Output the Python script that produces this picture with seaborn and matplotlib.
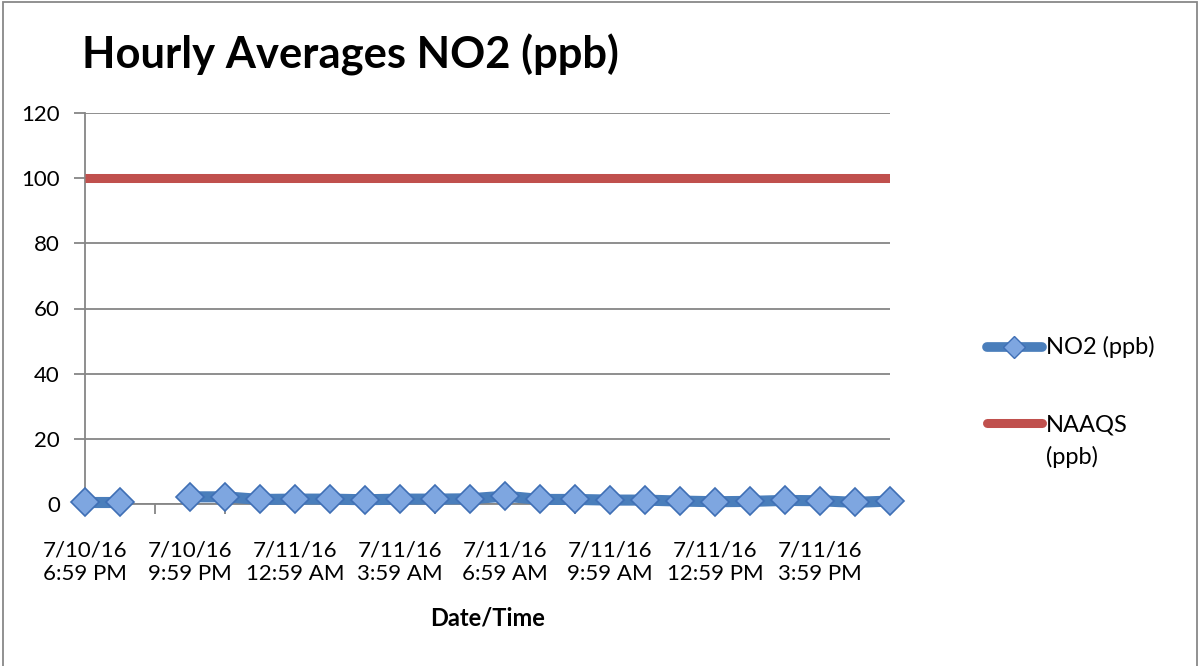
import numpy as np
import pandas as pd
import matplotlib

matplotlib.use("Agg")
import matplotlib.pyplot as plt
from matplotlib.lines import Line2D
from matplotlib.patches import Rectangle
import seaborn as sns

# hourly readings, 7/10/16 6:59 PM .. 7/11/16 5:59 PM
DATES = ["7/10/16"] * 6 + ["7/11/16"] * 18
TIMES = ["6:59 PM", "7:59 PM", "8:59 PM", "9:59 PM", "10:59 PM", "11:59 PM",
         "12:59 AM", "1:59 AM", "2:59 AM", "3:59 AM", "4:59 AM", "5:59 AM",
         "6:59 AM", "7:59 AM", "8:59 AM", "9:59 AM", "10:59 AM", "11:59 AM",
         "12:59 PM", "1:59 PM", "2:59 PM", "3:59 PM", "4:59 PM", "5:59 PM"]
NO2_PPB = [0.6, 0.6, np.nan, 2.2, 2.2, 1.4, 1.5, 1.5, 1.3, 1.5, 1.5, 1.6,
           2.4, 1.4, 1.4, 1.2, 1.2, 0.9, 0.7, 0.8, 1.1, 1.0, 0.5, 0.9]
NAAQS_PPB = 100
Y_TICKS = [0, 20, 40, 60, 80, 100, 120]
LABEL_EVERY = 3

BLUE = "#4A7EBB"
MARKER_FACE = "#7EA6E0"
MARKER_EDGE = "#3F6FB5"
RED = "#C0504D"
GRID = "#868686"

W, H = 1199, 666


def fx(px):
    return px / W


def fy(py):
    return 1 - py / H


df = pd.DataFrame({"label": [f"{d}\n{t}" for d, t in zip(DATES, TIMES)],
                   "no2": NO2_PPB})
df["idx"] = np.arange(len(df))
df["naaqs"] = NAAQS_PPB
# a missing hour breaks the line into separate runs
df["run"] = df["no2"].isna().cumsum()

sns.set_style("white")
plt.rcParams["font.family"] = ["Lato", "DejaVu Sans"]
plt.rcParams["text.color"] = "black"
plt.rcParams["xtick.color"] = "black"
plt.rcParams["ytick.color"] = "black"
plt.rcParams["axes.labelcolor"] = "black"

fig = plt.figure(figsize=(W / 100, H / 100), dpi=100)
ax = fig.add_axes([fx(85), fy(504), fx(890 - 85), (504 - 113) / H])

sns.lineplot(data=df, x="idx", y="naaqs", ax=ax, color=RED, linewidth=6.5,
             solid_capstyle="butt", zorder=3)
sns.lineplot(data=df.dropna(subset=["no2"]), x="idx", y="no2", units="run",
             estimator=None, ax=ax, color=BLUE, linewidth=8,
             marker="D", markersize=14, markerfacecolor=MARKER_FACE,
             markeredgecolor=MARKER_EDGE, markeredgewidth=1.2,
             clip_on=False, zorder=5)

ax.set_xlim(0, len(df) - 1)
ax.set_ylim(0, 120)
ax.set_yticks(Y_TICKS)
ax.yaxis.grid(True, color=GRID, linewidth=1.3)
ax.tick_params(axis="y", length=8, width=1.3, color=GRID, pad=10,
               labelsize=16, left=True, labelcolor="black")

ticks = df["idx"][::LABEL_EVERY]
ax.set_xticks(ticks)
ax.set_xticklabels(df["label"][::LABEL_EVERY], linespacing=1.25)
ax.set_xticks(df["idx"][::2], minor=True)
ax.tick_params(axis="x", which="major", length=0, pad=26, labelsize=16,
               labelcolor="black")
ax.tick_params(axis="x", which="minor", length=7, width=1.3, color=GRID,
               bottom=True)

for side in ["top", "right"]:
    ax.spines[side].set_visible(False)
for side in ["left", "bottom"]:
    ax.spines[side].set_color(GRID)
    ax.spines[side].set_linewidth(1.3)

ax.set_ylabel("")
ax.set_xlabel("Date/Time", fontsize=17, fontweight="bold", color="black")
ax.xaxis.set_label_coords(0.5, (504 - 606) / (504 - 113))

fig.text(fx(82), fy(55), "Hourly Averages NO2 (ppb)", fontsize=31.3,
         fontweight="bold", va="center", ha="left", color="black")

# legend drawn by hand, as in the spreadsheet layout
fig.add_artist(Line2D([fx(987), fx(1042)], [fy(347), fy(347)], color=BLUE,
                      linewidth=7, solid_capstyle="round",
                      transform=fig.transFigure))
fig.add_artist(Line2D([fx(1014)], [fy(347)], marker="D", markersize=11,
                      markerfacecolor=MARKER_FACE, markeredgecolor=MARKER_EDGE,
                      transform=fig.transFigure))
fig.text(fx(1046), fy(347), "NO2 (ppb)", fontsize=17, va="center")
fig.add_artist(Line2D([fx(987), fx(1042)], [fy(423), fy(423)], color=RED,
                      linewidth=6.5, solid_capstyle="round",
                      transform=fig.transFigure))
fig.text(fx(1046), fy(441), "NAAQS\n(ppb)", fontsize=17, va="center",
         linespacing=1.55)

fig.add_artist(Rectangle((fx(3), -0.01), fx(1197 - 3), fy(2) + 0.01,
                         fill=False, edgecolor="#888888", linewidth=1.3,
                         transform=fig.transFigure))

fig.savefig("out.png", dpi=100)
